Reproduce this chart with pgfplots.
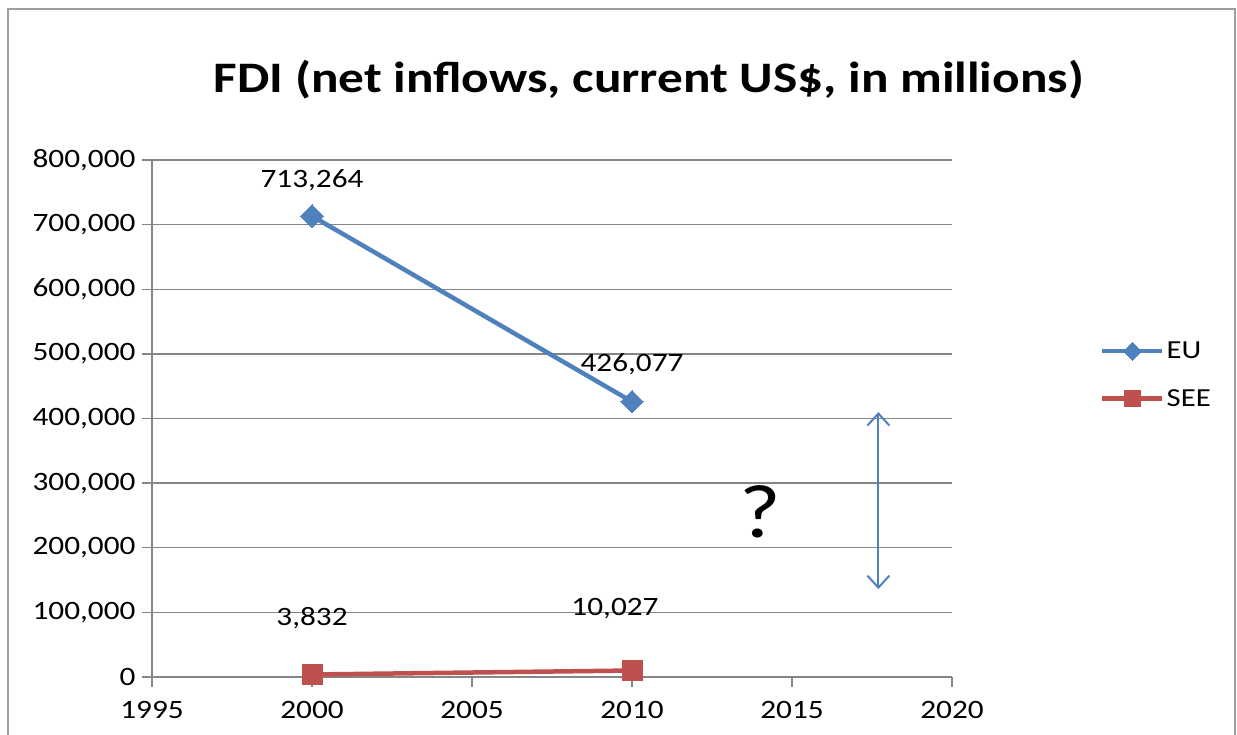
\documentclass[border=0pt]{standalone}
\usepackage{pgfplots}
\pgfplotsset{compat=1.18}
\usetikzlibrary{arrows.meta}
\usepackage{fontspec}
\setmainfont{Carlito}[FakeStretch=1.18]
\definecolor{eublue}{HTML}{4F81BD}
\definecolor{seered}{HTML}{C0504D}
\definecolor{axgray}{HTML}{868686}
\begin{document}
\begin{tikzpicture}[x=1pt,y=1pt]
\useasboundingbox (0,0) rectangle (1237,735);
\draw[axgray!80, line width=2pt] (8,-5) -- (8,726) -- (1235,726) -- (1235,-5);
\node[font=\fontsize{43.5}{50}\selectfont\bfseries] at (649,655) {FDI (net inflows, current US\$, in millions)};
\begin{axis}[
  at={(152pt,58pt)}, anchor=south west,
  scale only axis, width=800pt, height=517pt,
  xmin=1995, xmax=2020, ymin=0, ymax=800000,
  xtick={1995,2000,...,2020},
  ytick={0,100000,...,800000},
  axis x line*=bottom, axis y line*=left,
  axis line style={axgray, line width=1.3pt},
  ymajorgrids, major grid style={axgray, line width=1.3pt},
  tick style={axgray, line width=1.3pt},
  major tick length=10pt, tick align=outside,
  tick label style={font=\fontsize{26.5}{30}\selectfont, black},
  /pgf/number format/assume math mode=true,
  scaled y ticks=false,
  yticklabel style={xshift=-3pt, /pgf/number format/.cd, fixed, 1000 sep={,}},
  xticklabel style={yshift=-11pt, /pgf/number format/.cd, 1000 sep={}},
  clip=false,
  legend style={at={(1.185,0.652)}, anchor=north west, draw=none, fill=none,
    font=\fontsize{26}{30}\selectfont, row sep=25pt, inner sep=0pt,
    legend cell align=left},
  legend image code/.code={%
    \draw[mark repeat=2, mark phase=2, mark size=0.8*\pgfplotmarksize] plot coordinates {(0pt,0pt) (30pt,0pt) (60pt,0pt)};},
]
\addplot[eublue, line width=4.5pt, mark=square*, mark size=8pt, mark options={solid, line width=0pt, rotate=45}]
  coordinates {(2000,713264) (2010,426077)};
\addlegendentry{EU}
\addplot[seered, line width=4.5pt, mark=square*, mark size=10pt, mark options={solid, line width=0pt}]
  coordinates {(2000,3832) (2010,10027)};
\addlegendentry{SEE}
\node[font=\fontsize{26.5}{30}\selectfont] at (axis cs:2000,713264) [yshift=36pt] {713,264};
\node[font=\fontsize{26.5}{30}\selectfont] at (axis cs:2010,426077) [yshift=37pt] {426,077};
\node[font=\fontsize{26.5}{30}\selectfont] at (axis cs:2000,3832) [yshift=56pt] {3,832};
\node[font=\fontsize{26.5}{30}\selectfont] at (axis cs:2010,10027) [yshift=62pt, xshift=-17pt] {10,027};
\node[font=\fontsize{76}{80}\selectfont] at (axis cs:2014,255000) {?};
\draw[eublue, line width=2pt, {Straight Barb[length=12pt, width=22pt]}-{Straight Barb[length=12pt, width=22pt]}]
  (axis cs:2017.7,410000) -- (axis cs:2017.7,136000);
\end{axis}
\end{tikzpicture}
\end{document}
